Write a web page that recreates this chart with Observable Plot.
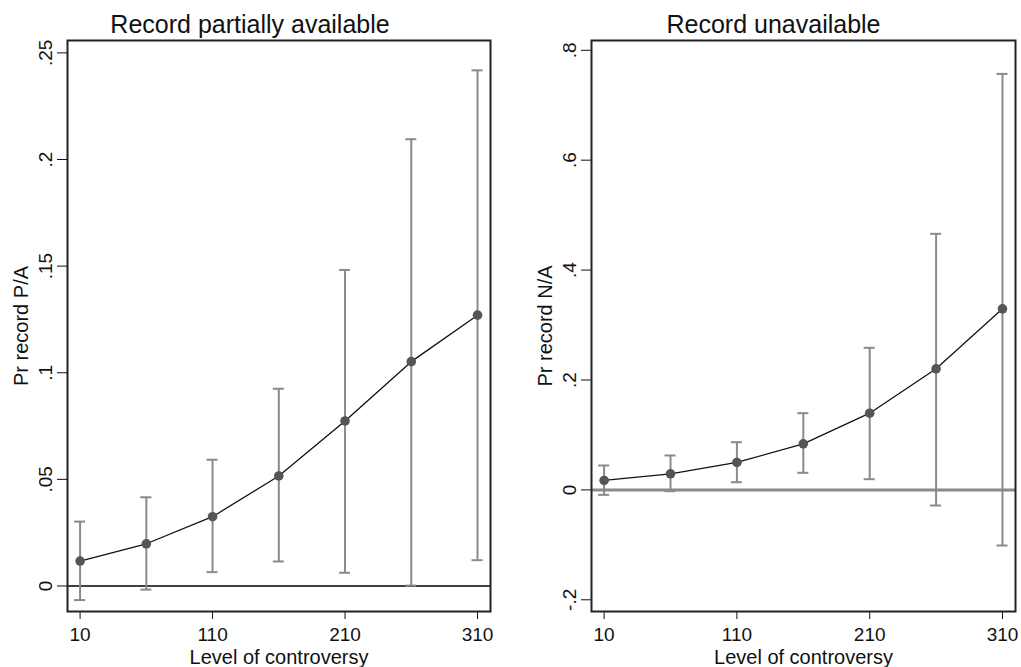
<!DOCTYPE html>
<html>
<head>
<meta charset="utf-8">
<script src="https://cdn.jsdelivr.net/npm/d3@7"></script>
<script src="https://cdn.jsdelivr.net/npm/@observablehq/plot@0.6"></script>
<style>
  html, body { margin: 0; padding: 0; background: #fff; }
  #chart { display: flex; width: 1021px; height: 667px; }
  #chart svg { display: block; }
</style>
</head>
<body>
<div id="chart"></div>
<script>
// Level of controversy (x positions of estimates)
const controversy = [10, 60, 110, 160, 210, 260, 310];
const xTicks = [10, 110, 210, 310];

// Left panel: Record partially available
const paEst = [0.0117, 0.0198, 0.0325, 0.0516, 0.0774, 0.1052, 0.127];
const paLo  = [-0.0066, -0.0017, 0.0065, 0.0115, 0.0062, 0.0002, 0.0121];
const paHi  = [0.0302, 0.0416, 0.0592, 0.0925, 0.1482, 0.2095, 0.2418];
const paTicks = [0, 0.05, 0.1, 0.15, 0.2, 0.25];

// Right panel: Record unavailable
const naEst = [0.0172, 0.0293, 0.0499, 0.0839, 0.1396, 0.2204, 0.3296];
const naLo  = [-0.009, -0.0024, 0.014, 0.0311, 0.0195, -0.0284, -0.1012];
const naHi  = [0.0444, 0.0626, 0.0868, 0.1396, 0.2586, 0.466, 0.757];
const naTicks = [-0.2, 0, 0.2, 0.4, 0.6, 0.8];

const titles = ["Record partially available", "Record unavailable"];
const yLabels = ["Pr record P/A", "Pr record N/A"];
const xLabel = "Level of controversy";

const FONT = "'Liberation Sans', Arial, Helvetica, sans-serif";
const fmt = d => d === 0 ? "0" : d3.format(".2~f")(d).replace("\u2212", "-").replace("0.", ".");

function panel(o) {
  const data = controversy.map((x, i) => ({x, est: o.est[i], lo: o.lo[i], hi: o.hi[i]}));
  return Plot.plot({
    width: o.width,
    height: 667,
    marginLeft: o.ml,
    marginRight: o.mr,
    marginTop: 40,
    marginBottom: 56,
    style: {fontFamily: FONT, fontSize: "19px", background: "#fff", color: "#111", overflow: "visible"},
    x: {domain: [0.5, 319.8]},
    y: {domain: o.yDomain},
    marks: [
      Plot.ruleY([0], {stroke: o.zeroStroke, strokeWidth: o.zeroWidth}),
      Plot.ruleX(data, {x: "x", y1: "lo", y2: "hi", stroke: "#8a8a8a", strokeWidth: 2}),
      Plot.ruleY(data, {y: "hi", x1: "x", x2: "x", insetLeft: -5.5, insetRight: -5.5, stroke: "#8a8a8a", strokeWidth: 2}),
      Plot.ruleY(data, {y: "lo", x1: "x", x2: "x", insetLeft: -5.5, insetRight: -5.5, stroke: "#8a8a8a", strokeWidth: 2}),
      Plot.line(data, {x: "x", y: "est", stroke: "#111", strokeWidth: 1.3}),
      Plot.dot(data, {x: "x", y: "est", r: 4.8, fill: "#555", stroke: "none"}),
      Plot.axisX({ticks: xTicks, tickSize: 8, tickPadding: 8, tickFormat: d3.format("d"), label: null, fontSize: 19}),
      Plot.axisY({ticks: o.yTicks, tickSize: 10, tickFormat: () => "", label: null}),
      Plot.text(o.yTicks, {y: d => d, text: fmt, frameAnchor: "left", rotate: -90, dx: -22, textAnchor: "middle", lineAnchor: "middle", fontSize: 19}),
      Plot.text([o.yLabel], {frameAnchor: "left", rotate: -90, dx: -54, textAnchor: "middle", lineAnchor: "top", fontSize: 20}),
      Plot.text([xLabel], {frameAnchor: "bottom", dy: 38, lineAnchor: "top", fontSize: 20}),
      Plot.text([o.title], {frameAnchor: "top", dx: o.titleDx, dy: -8, lineAnchor: "bottom", fontSize: 25}),
      Plot.frame({stroke: "#222", strokeWidth: 2})
    ]
  });
}

const chart = document.getElementById("chart");
chart.append(panel({
  est: paEst, lo: paLo, hi: paHi, yTicks: paTicks,
  yDomain: [-0.01196, 0.2558], yLabel: yLabels[0], title: titles[0],
  width: 510, ml: 67, mr: 20, zeroStroke: "#000", zeroWidth: 1.5, titleDx: -29
}));
chart.append(panel({
  est: naEst, lo: naLo, hi: naHi, yTicks: naTicks,
  yDomain: [-0.2213, 0.8178], yLabel: yLabels[1], title: titles[1],
  width: 511, ml: 81, mr: 6, zeroStroke: "#8a8a8a", zeroWidth: 3, titleDx: -30
}));
</script>
</body>
</html>
